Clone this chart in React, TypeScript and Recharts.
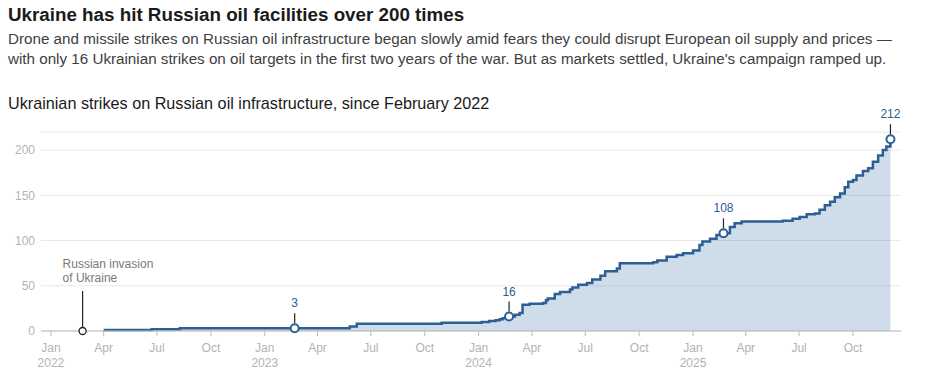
import { ComposedChart, Area, Scatter, XAxis, YAxis, CartesianGrid } from "recharts";

// cumulative strikes (step dates and running totals)
const strikeDates = [
  "2022-04-01", "2022-06-22", "2022-08-09", "2023-02-21", "2023-05-26", "2023-06-07",
  "2023-10-30", "2024-01-06", "2024-01-19", "2024-01-30", "2024-02-06", "2024-02-11",
  "2024-02-16", "2024-02-22", "2024-03-03", "2024-03-11", "2024-03-16", "2024-03-28",
  "2024-04-20", "2024-04-25", "2024-04-28", "2024-05-10", "2024-05-19", "2024-06-05",
  "2024-06-09", "2024-06-19", "2024-07-04", "2024-07-13", "2024-07-27", "2024-08-04",
  "2024-08-24", "2024-08-29", "2024-10-25", "2024-11-01", "2024-11-17", "2024-12-04",
  "2024-12-15", "2025-01-01", "2025-01-12", "2025-01-17", "2025-01-30", "2025-02-10",
  "2025-02-22", "2025-03-05", "2025-03-13", "2025-03-25", "2025-06-03", "2025-06-20",
  "2025-07-02", "2025-07-14", "2025-07-28", "2025-08-05", "2025-08-14", "2025-08-23",
  "2025-08-31", "2025-09-09", "2025-09-17", "2025-09-23", "2025-10-01", "2025-10-07",
  "2025-10-18", "2025-10-27", "2025-11-04", "2025-11-13", "2025-11-21", "2025-11-27",
  "2025-12-04",
];
const strikeCounts = [
  1, 2, 3, 3, 5, 8,
  9, 10, 11, 12, 13, 14,
  15, 16, 18, 20, 29, 30,
  31, 34, 36, 41, 43, 46,
  48, 51, 53, 57, 61, 66,
  69, 75, 76, 78, 82, 84,
  86, 89, 95, 99, 102, 106,
  108, 115, 119, 121, 122, 124,
  126, 129, 130, 134, 139, 143,
  148, 152, 159, 165, 167, 172,
  177, 180, 187, 194, 200, 204,
  212,
];

const markerDates = ["2023-02-21", "2024-02-22", "2025-02-22", "2025-12-04"];
const markerValues = [3, 16, 108, 212];

const invasionDate = "2022-02-24";

const tickDates = [
  "2022-01-01", "2022-04-01", "2022-07-01", "2022-10-01",
  "2023-01-01", "2023-04-01", "2023-07-01", "2023-10-01",
  "2024-01-01", "2024-04-01", "2024-07-01", "2024-10-01",
  "2025-01-01", "2025-04-01", "2025-07-01", "2025-10-01",
];
const monthNames = ["Jan", "Apr", "Jul", "Oct"];
const yTicks = [0, 50, 100, 150, 200];

const t = (s: string) => Date.parse(s);

const data = strikeDates.map((s, i) => ({ t: t(s), v: strikeCounts[i] }));
const markers = markerDates.map((s, i) => ({ t: t(s), v: markerValues[i] }));
const invasion = [{ t: t(invasionDate), v: 0 }];

const BLUE = "#2c5f94";
const FONT = "'Liberation Sans', Arial, sans-serif";

function XTick(props: any) {
  const { x, y, payload } = props;
  const dt = new Date(payload.value);
  const m = dt.getUTCMonth();
  return (
    <text x={x} y={y + 14} textAnchor="middle" fill="#b3b3b3" fontSize={12} fontFamily={FONT}>
      <tspan x={x}>{monthNames[m / 3]}</tspan>
      {m === 0 && (
        <tspan x={x} dy={15}>
          {dt.getUTCFullYear()}
        </tspan>
      )}
    </text>
  );
}

function Marker(props: any) {
  const { cx, cy, payload } = props;
  return (
    <g>
      <line x1={cx} x2={cx} y1={cy - 5} y2={cy - 15} stroke="#222" strokeWidth={1.2} />
      <text x={cx} y={cy - 21} textAnchor="middle" fill={BLUE} fontSize={12} fontFamily={FONT}>
        {payload.v}
      </text>
      <circle cx={cx} cy={cy} r={4} fill="#fff" stroke={BLUE} strokeWidth={2} />
    </g>
  );
}

function InvasionMarker(props: any) {
  const { cx, cy } = props;
  return (
    <g>
      <line x1={cx} x2={cx} y1={cy - 4} y2={cy - 40} stroke="#222" strokeWidth={1.2} />
      <text fill="#7a7a7a" fontSize={12} fontFamily={FONT} fontWeight={500}>
        <tspan x={cx - 20} y={cy - 63}>Russian invasion</tspan>
        <tspan x={cx - 20} y={cy - 49}>of Ukraine</tspan>
      </text>
      <circle cx={cx} cy={cy} r={3.5} fill="#fff" stroke="#222" strokeWidth={1.3} />
    </g>
  );
}

export default function App() {
  return (
    <div style={{ position: "absolute", left: 0, top: 0, width: 927, height: 392, background: "#fff", fontFamily: FONT }}>
      <div style={{ position: "absolute", left: 8, top: 4, fontSize: 18.8, fontWeight: 700, color: "#1a1a1a" }}>
        Ukraine has hit Russian oil facilities over 200 times
      </div>
      <div style={{ position: "absolute", left: 8, top: 29, width: 915, fontSize: 15.2, lineHeight: "20px", color: "#404040" }}>
        Drone and missile strikes on Russian oil infrastructure began slowly amid fears they could disrupt European oil supply and prices —
        <br />
        with only 16 Ukrainian strikes on oil targets in the first two years of the war. But as markets settled, Ukraine's campaign ramped up.
      </div>
      <div style={{ position: "absolute", left: 8, top: 94, fontSize: 16.2, color: "#1a1a1a" }}>
        Ukrainian strikes on Russian oil infrastructure, since February 2022
      </div>
      <div style={{ position: "absolute", left: 0, top: 0 }}>
        <ComposedChart width={927} height={392} data={data} margin={{ top: 132, right: 26, bottom: 21, left: 0 }}>
          <CartesianGrid vertical={false} stroke="#e8e8e8" />
          <XAxis
            dataKey="t"
            type="number"
            domain={[t("2021-12-15"), t("2025-12-22")]}
            ticks={tickDates.map(t)}
            tick={<XTick />}
            tickSize={5}
            tickLine={{ stroke: "#bbb" }}
            axisLine={{ stroke: "#bbb" }}
            height={40}
            interval={0}
          />
          <YAxis
            type="number"
            domain={[0, 220]}
            ticks={yTicks}
            width={41}
            axisLine={false}
            tickLine={false}
            tickSize={0}
            tickMargin={6}
            tick={{ fill: "#b3b3b3", fontSize: 12, fontFamily: FONT }}
          />
          <Area
            type="stepAfter"
            dataKey="v"
            stroke={BLUE}
            strokeWidth={2.5}
            fill="#2f6aa8"
            fillOpacity={0.23}
            isAnimationActive={false}
            dot={false}
            activeDot={false}
          />
          <Scatter data={invasion} dataKey="v" shape={<InvasionMarker />} isAnimationActive={false} />
          <Scatter data={markers} dataKey="v" shape={<Marker />} isAnimationActive={false} />
        </ComposedChart>
      </div>
    </div>
  );
}
